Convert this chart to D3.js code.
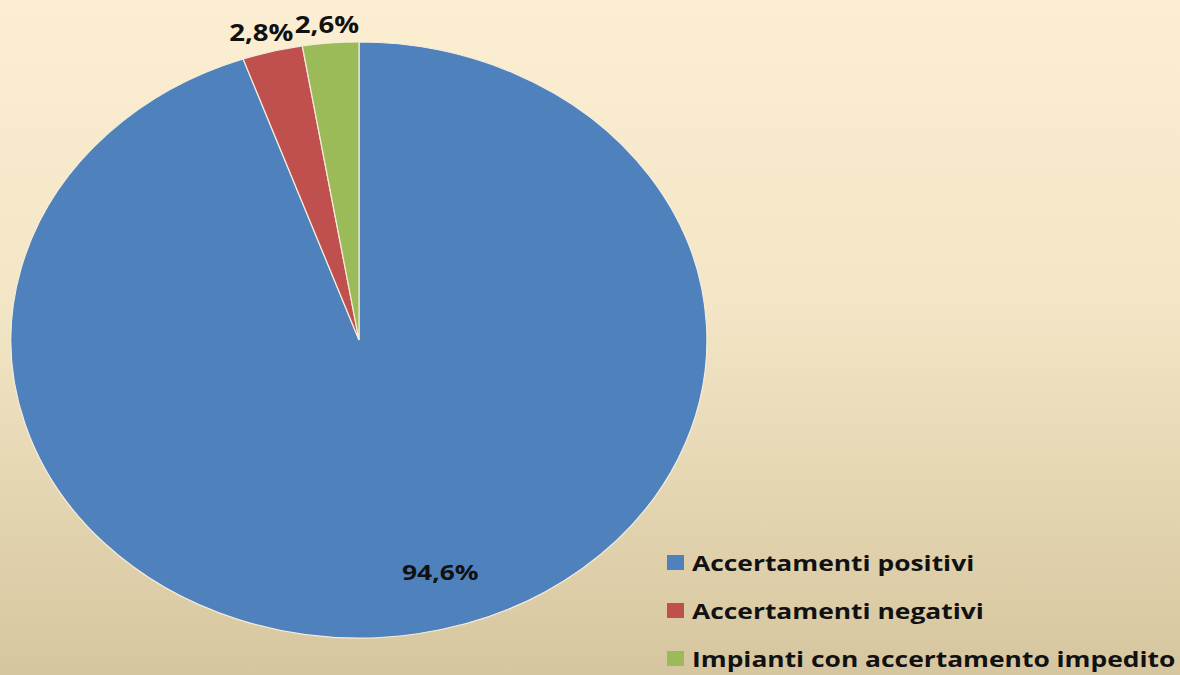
<!DOCTYPE html>
<html><head><meta charset="utf-8">
<script src="https://cdn.jsdelivr.net/npm/d3@7"></script>
<style>html,body{margin:0;padding:0;overflow:hidden;}</style>
</head><body>
<svg id="chart" width="1180" height="675"></svg>
<script>
const categories = ["Accertamenti positivi", "Accertamenti negativi", "Impianti con accertamento impedito"];
const values = [94.6, 2.8, 2.6];
const labels = ["94,6%", "2,8%", "2,6%"];
const colors = ["#4f81bd", "#c0504d", "#9bbb59"];

const W = 1180, H = 675;
const svg = d3.select("#chart");
const defs = svg.append("defs");
const grad = defs.append("linearGradient").attr("id","bg").attr("x1",0).attr("y1",0).attr("x2",0).attr("y2",1);
grad.append("stop").attr("offset","0%").attr("stop-color","#fbeed2");
grad.append("stop").attr("offset","45%").attr("stop-color","#f3e6c6");
grad.append("stop").attr("offset","100%").attr("stop-color","#d6c69f");
svg.append("rect").attr("width",W).attr("height",H).attr("fill","url(#bg)");

const cx = 359, cy = 340, rx = 348, ry = 298;
const pie = d3.pie().sort(null).value(d => d);
const arcs = pie(values);
const arc = d3.arc().innerRadius(0).outerRadius(1);

const g = svg.append("g").attr("transform", `translate(${cx},${cy}) scale(${rx},${ry})`);
g.selectAll("path").data(arcs).join("path")
  .attr("d", arc)
  .attr("fill", (d,i) => colors[i])
  .attr("stroke", "#f4ecdc")
  .attr("stroke-width", 1.2)
  .attr("vector-effect", "non-scaling-stroke");

const font = "'Open Sans', 'DejaVu Sans', sans-serif";
const SX = 1.2; // horizontal stretch of text, as in the reference

function addText(parent, x, y, txt, size, anchor) {
  const t = parent.append("g").attr("transform", `translate(${x},${y}) scale(${SX},1)`);
  t.append("text").attr("x",0).attr("y",0)
    .attr("text-anchor", anchor).attr("dominant-baseline","central")
    .attr("font-family", font).attr("font-weight","bold")
    .attr("font-size", size).attr("fill","#111").text(txt);
}

arcs.forEach((a, i) => {
  const mid = (a.startAngle + a.endAngle) / 2;
  let x, y;
  if (i === 0) {
    const r = 0.787;
    x = cx + Math.sin(mid)*r*rx + 35; y = cy - Math.cos(mid)*r*ry;
    addText(svg, x, y, labels[i], 22, "middle");
  } else {
    x = cx + Math.sin(mid)*rx + Math.sin(mid)*45;
    y = cy - Math.cos(mid)*ry - 19;
    addText(svg, x, y, labels[i], 23, "middle");
  }
});

// legend
const leg = svg.append("g");
categories.forEach((c, i) => {
  const y0 = 563 + i*48;
  leg.append("rect").attr("x",667).attr("y",y0-8).attr("width",17).attr("height",15).attr("fill",colors[i]);
  addText(leg, 692, y0-1, c, 22, "start");
});
</script>
</body></html>
